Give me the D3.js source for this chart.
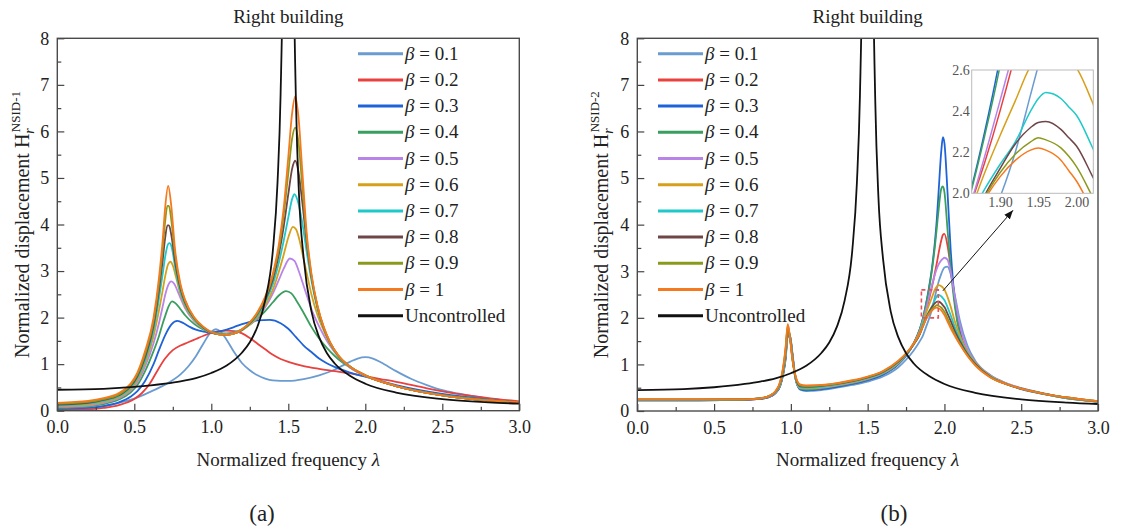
<!DOCTYPE html>
<html>
<head>
<meta charset="utf-8">
<script src="https://cdn.jsdelivr.net/npm/d3@7"></script>
<style>
  html, body { margin: 0; padding: 0; background: #fff; }
  svg { display: block; }
</style>
</head>
<body>
<svg id="chart" width="1127" height="530"></svg>
<script>
// ---------- data ----------
const betaLabels = ["0.1", "0.2", "0.3", "0.4", "0.5", "0.6", "0.7", "0.8", "0.9", "1"];
const lineColors = ["#6a9bd1", "#e8413e", "#1e63d8", "#3a9e5e", "#b884e8",
                    "#d6a01a", "#1fc9c9", "#6f4548", "#8c9a1c", "#f57a1f"];

const xTicks = [0, 0.5, 1, 1.5, 2, 2.5, 3];
const xMinorTicks = [0.25, 0.75, 1.25, 1.75, 2.25, 2.75];
const yTicks = [0, 1, 2, 3, 4, 5, 6, 7, 8];
const yMinorTicks = [0.5, 1.5, 2.5, 3.5, 4.5, 5.5, 6.5, 7.5];
const insetXTicks = [1.90, 1.95, 2.00];
const insetYTicks = [2.0, 2.2, 2.4, 2.6];

// uncontrolled response (same in both panels)
const uncontrolled = [[0,0.45],[0.3,0.47],[0.5,0.51],[0.7,0.58],[0.8,0.63],[0.9,0.7],[1.0,0.81],[1.1,0.97],
  [1.2,1.25],[1.25,1.47],[1.3,1.81],[1.35,2.37],[1.4,3.45],[1.43,4.9],[1.45,6.8],[1.47,11],[1.5,30],
  [1.53,11],[1.55,6.6],[1.57,4.6],[1.6,3.27],[1.65,2.14],[1.7,1.58],[1.75,1.24],[1.8,1.02],[1.9,0.75],
  [2.0,0.58],[2.2,0.39],[2.5,0.25],[2.8,0.18],[3.0,0.15]];

// panel (a): H_r^NSID-1, [lambda, H] per beta
const a01 = [[0,0.03],[0.2,0.06],[0.3,0.1],[0.4,0.17],[0.5,0.26],[0.6,0.4],[0.7,0.56],[0.8,0.78],[0.85,0.95],
  [0.9,1.17],[0.95,1.45],[1.0,1.7],[1.03,1.75],[1.06,1.7],[1.1,1.52],[1.15,1.25],[1.2,1.02],[1.25,0.87],
  [1.3,0.76],[1.35,0.69],[1.4,0.65],[1.45,0.64],[1.5,0.64],[1.6,0.68],[1.7,0.76],[1.8,0.88],[1.9,1.05],
  [1.95,1.12],[2.0,1.15],[2.05,1.12],[2.1,1.04],[2.2,0.85],[2.3,0.68],[2.4,0.55],[2.5,0.44],[2.6,0.37],
  [2.8,0.26],[3.0,0.19]];
const a02 = [[0,0.02],[0.2,0.03],[0.3,0.06],[0.4,0.12],[0.5,0.25],[0.55,0.38],[0.6,0.58],[0.65,0.86],
  [0.7,1.12],[0.75,1.3],[0.8,1.4],[0.85,1.47],[0.9,1.54],[0.95,1.61],[1.0,1.67],[1.05,1.71],[1.1,1.72],
  [1.15,1.71],[1.2,1.66],[1.25,1.56],[1.3,1.44],[1.35,1.32],[1.4,1.2],[1.45,1.11],[1.5,1.05],[1.6,0.96],
  [1.7,0.9],[1.8,0.85],[1.9,0.8],[2.0,0.74],[2.1,0.68],[2.2,0.62],[2.4,0.48],[2.6,0.36],[2.8,0.27],[3.0,0.2]];
const a03 = [[0,0.04],[0.2,0.06],[0.3,0.1],[0.4,0.18],[0.475,0.3],[0.52,0.42],[0.57,0.64],[0.625,1.0],
  [0.66,1.3],[0.7,1.62],[0.74,1.85],[0.78,1.93],[0.82,1.88],[0.86,1.8],[0.9,1.74],[0.95,1.7],[1.0,1.68],
  [1.05,1.7],[1.1,1.74],[1.15,1.8],[1.2,1.86],[1.25,1.91],[1.3,1.94],[1.38,1.95],[1.45,1.88],[1.5,1.76],
  [1.55,1.58],[1.6,1.4],[1.65,1.26],[1.7,1.12],[1.75,1.02],[1.8,0.94],[1.9,0.82],[2.0,0.73],[2.2,0.55],
  [2.5,0.36],[2.8,0.24],[3.0,0.18]];
const a04 = [[0,0.06],[0.2,0.09],[0.3,0.14],[0.4,0.24],[0.475,0.39],[0.52,0.55],[0.57,0.85],[0.625,1.28],
  [0.66,1.6],[0.685,1.88],[0.7,2.03],[0.72,2.22],[0.745,2.35],[0.77,2.3],[0.8,2.18],[0.83,2.05],[0.89,1.86],
  [0.95,1.74],[1.0,1.68],[1.05,1.66],[1.1,1.66],[1.15,1.69],[1.2,1.75],[1.25,1.85],[1.3,1.98],[1.35,2.14],
  [1.4,2.33],[1.44,2.48],[1.485,2.57],[1.52,2.52],[1.55,2.38],[1.6,2.1],[1.65,1.8],[1.7,1.55],[1.75,1.35],
  [1.8,1.18],[1.85,1.04],[1.9,0.93],[2.0,0.75],[2.2,0.53],[2.5,0.34],[2.8,0.23],[3.0,0.17]];
const a05 = [[0,0.08],[0.2,0.11],[0.3,0.17],[0.4,0.27],[0.475,0.43],[0.52,0.61],[0.57,0.95],[0.625,1.45],
  [0.66,1.88],[0.685,2.25],[0.7,2.48],[0.72,2.7],[0.74,2.78],[0.76,2.72],[0.78,2.58],[0.8,2.42],[0.83,2.2],
  [0.89,1.92],[0.95,1.76],[1.0,1.68],[1.05,1.65],[1.1,1.65],[1.15,1.68],[1.2,1.74],[1.25,1.85],[1.3,2.0],
  [1.35,2.22],[1.4,2.52],[1.44,2.82],[1.47,3.05],[1.51,3.27],[1.54,3.22],[1.57,2.98],[1.6,2.68],[1.63,2.38],
  [1.66,2.1],[1.69,1.88],[1.73,1.62],[1.77,1.4],[1.83,1.14],[1.9,0.93],[2.0,0.75],[2.2,0.53],[2.5,0.33],
  [2.8,0.22],[3.0,0.17]];
const a06 = [[0,0.1],[0.2,0.13],[0.3,0.19],[0.4,0.29],[0.475,0.46],[0.52,0.66],[0.57,1.02],[0.625,1.6],
  [0.66,2.15],[0.685,2.6],[0.7,2.88],[0.72,3.15],[0.735,3.2],[0.75,3.12],[0.77,2.88],[0.8,2.5],[0.83,2.24],
  [0.89,1.94],[0.95,1.76],[1.0,1.68],[1.05,1.64],[1.1,1.64],[1.15,1.66],[1.2,1.73],[1.25,1.85],[1.3,2.02],
  [1.35,2.27],[1.4,2.6],[1.44,3.0],[1.47,3.35],[1.5,3.72],[1.53,3.95],[1.55,3.9],[1.57,3.7],[1.6,3.25],
  [1.63,2.8],[1.65,2.5],[1.69,2.05],[1.73,1.72],[1.77,1.44],[1.83,1.15],[1.9,0.94],[2.0,0.75],[2.2,0.53],
  [2.5,0.33],[2.8,0.22],[3.0,0.17]];
const a07 = [[0,0.11],[0.2,0.15],[0.3,0.21],[0.4,0.31],[0.475,0.49],[0.52,0.7],[0.57,1.08],[0.625,1.72],
  [0.66,2.4],[0.685,2.95],[0.7,3.3],[0.72,3.58],[0.73,3.6],[0.745,3.48],[0.765,3.08],[0.8,2.55],[0.83,2.28],
  [0.89,1.96],[0.95,1.77],[1.0,1.68],[1.05,1.64],[1.1,1.63],[1.15,1.66],[1.2,1.73],[1.25,1.87],[1.3,2.05],
  [1.35,2.33],[1.4,2.72],[1.44,3.2],[1.47,3.65],[1.5,4.15],[1.525,4.55],[1.54,4.65],[1.56,4.52],[1.59,4.05],
  [1.62,3.4],[1.65,2.8],[1.69,2.18],[1.73,1.76],[1.77,1.46],[1.83,1.16],[1.9,0.95],[2.0,0.76],[2.2,0.53],
  [2.5,0.33],[2.8,0.22],[3.0,0.17]];
const a08 = [[0,0.13],[0.2,0.17],[0.3,0.23],[0.4,0.33],[0.475,0.52],[0.52,0.74],[0.57,1.15],[0.625,1.83],
  [0.66,2.58],[0.685,3.25],[0.7,3.7],[0.715,3.98],[0.725,3.98],[0.74,3.78],[0.765,3.2],[0.8,2.62],[0.83,2.32],
  [0.89,1.98],[0.95,1.78],[1.0,1.68],[1.05,1.64],[1.1,1.63],[1.15,1.66],[1.2,1.74],[1.25,1.88],[1.3,2.08],
  [1.35,2.38],[1.4,2.82],[1.44,3.38],[1.47,3.95],[1.5,4.65],[1.525,5.2],[1.545,5.37],[1.565,5.15],[1.59,4.5],
  [1.62,3.6],[1.65,2.88],[1.69,2.22],[1.73,1.78],[1.77,1.47],[1.83,1.16],[1.9,0.95],[2.0,0.76],[2.2,0.53],
  [2.5,0.33],[2.8,0.22],[3.0,0.17]];
const a09 = [[0,0.15],[0.2,0.19],[0.3,0.25],[0.4,0.35],[0.475,0.55],[0.52,0.78],[0.57,1.22],[0.625,1.92],
  [0.66,2.72],[0.685,3.5],[0.7,4.05],[0.715,4.4],[0.725,4.4],[0.74,4.1],[0.765,3.35],[0.8,2.68],[0.83,2.36],
  [0.89,1.99],[0.95,1.79],[1.0,1.69],[1.05,1.64],[1.1,1.63],[1.15,1.66],[1.2,1.75],[1.25,1.89],[1.3,2.1],
  [1.35,2.42],[1.4,2.9],[1.44,3.5],[1.47,4.2],[1.5,5.1],[1.525,5.85],[1.545,6.08],[1.565,5.8],[1.59,4.85],
  [1.62,3.7],[1.65,2.92],[1.69,2.24],[1.73,1.79],[1.77,1.47],[1.83,1.16],[1.9,0.95],[2.0,0.76],[2.2,0.53],
  [2.5,0.33],[2.8,0.22],[3.0,0.18]];
const a10 = [[0,0.17],[0.2,0.21],[0.3,0.27],[0.4,0.38],[0.475,0.58],[0.52,0.82],[0.57,1.28],[0.625,2.0],
  [0.66,2.85],[0.685,3.7],[0.7,4.35],[0.72,4.83],[0.74,4.4],[0.765,3.45],[0.8,2.72],[0.83,2.38],[0.89,2.0],
  [0.95,1.8],[1.0,1.69],[1.05,1.64],[1.1,1.63],[1.15,1.66],[1.2,1.75],[1.25,1.9],[1.3,2.12],[1.35,2.45],
  [1.4,2.95],[1.44,3.6],[1.47,4.35],[1.5,5.45],[1.525,6.4],[1.545,6.75],[1.565,6.35],[1.59,5.2],[1.62,3.8],
  [1.65,2.95],[1.69,2.25],[1.73,1.8],[1.77,1.48],[1.83,1.17],[1.9,0.95],[2.0,0.76],[2.2,0.53],[2.5,0.33],
  [2.8,0.22],[3.0,0.18]];

// panel (b): H_r^NSID-2 on a shared lambda grid
const lambdaB = [0, 0.4, 0.7, 0.8, 0.85, 0.9, 0.93, 0.95, 0.965, 0.98, 0.995, 1.01, 1.03, 1.06,
  1.1, 1.2, 1.3, 1.4, 1.5, 1.6, 1.7, 1.75, 1.8, 1.84,
  1.86, 1.88, 1.9, 1.92, 1.94, 1.95, 1.96, 1.98, 1.99, 2.0, 2.02, 2.04,
  2.07, 2.1, 2.15, 2.2, 2.3, 2.4, 2.5, 2.65, 2.8, 3.0];
const b01 = [0.23,0.23,0.24,0.26,0.29,0.38,0.53,0.78,1.08,1.58,1.6,1.25,0.72,0.46,
  0.43,0.45,0.5,0.56,0.63,0.74,0.94,1.1,1.3,1.5,
  1.62,1.8,1.98,2.2,2.48,2.62,2.75,2.95,3.03,3.08,3.1,2.95,
  2.45,1.95,1.4,1.08,0.77,0.6,0.49,0.38,0.28,0.2];
const b02 = [0.23,0.23,0.24,0.26,0.29,0.39,0.55,0.81,1.14,1.66,1.59,1.21,0.7,0.48,
  0.45,0.48,0.53,0.59,0.67,0.79,1.01,1.19,1.45,1.74,
  1.93,2.15,2.4,2.68,3.0,3.17,3.35,3.67,3.78,3.8,3.55,3.1,
  2.3,1.72,1.25,1.03,0.75,0.59,0.48,0.37,0.28,0.2];
const b03 = [0.23,0.23,0.24,0.26,0.29,0.39,0.54,0.8,1.12,1.64,1.6,1.22,0.7,0.47,
  0.44,0.47,0.52,0.58,0.66,0.78,1.0,1.18,1.45,1.76,
  1.99,2.3,2.66,3.1,3.7,4.1,4.6,5.6,5.88,5.75,4.7,3.5,
  2.3,1.7,1.25,1.03,0.74,0.58,0.47,0.36,0.27,0.2];
const b04 = [0.24,0.24,0.25,0.27,0.3,0.4,0.55,0.82,1.15,1.68,1.59,1.2,0.7,0.48,
  0.46,0.49,0.54,0.6,0.68,0.8,1.02,1.2,1.46,1.76,
  1.98,2.28,2.62,3.05,3.6,3.92,4.25,4.78,4.82,4.7,3.9,3.1,
  2.2,1.65,1.22,1.02,0.73,0.58,0.48,0.36,0.27,0.2];
const b05 = [0.24,0.24,0.25,0.27,0.3,0.4,0.56,0.83,1.17,1.7,1.58,1.18,0.7,0.49,
  0.48,0.5,0.55,0.61,0.69,0.81,1.03,1.2,1.45,1.72,
  1.93,2.18,2.45,2.72,2.95,3.05,3.13,3.24,3.27,3.29,3.25,3.0,
  2.4,1.85,1.32,1.05,0.76,0.6,0.49,0.37,0.28,0.2];
const b06 = [0.24,0.24,0.25,0.27,0.31,0.41,0.57,0.85,1.2,1.72,1.58,1.17,0.71,0.5,
  0.49,0.51,0.56,0.62,0.7,0.82,1.04,1.21,1.45,1.7,
  1.9,2.1,2.28,2.45,2.62,2.67,2.7,2.68,2.65,2.61,2.45,2.25,
  1.9,1.62,1.27,1.04,0.75,0.59,0.48,0.37,0.28,0.2];
const b07 = [0.24,0.24,0.25,0.27,0.31,0.41,0.58,0.87,1.23,1.75,1.57,1.15,0.72,0.51,
  0.5,0.52,0.57,0.63,0.71,0.83,1.05,1.21,1.43,1.66,
  1.88,2.02,2.14,2.25,2.4,2.46,2.49,2.46,2.42,2.38,2.23,2.06,
  1.78,1.55,1.24,1.02,0.74,0.58,0.48,0.37,0.28,0.2];
const b08 = [0.25,0.25,0.25,0.27,0.31,0.42,0.6,0.9,1.27,1.8,1.56,1.13,0.74,0.53,
  0.52,0.54,0.58,0.64,0.72,0.84,1.06,1.22,1.43,1.65,
  1.82,1.99,2.12,2.24,2.32,2.345,2.35,2.31,2.27,2.23,2.09,1.94,
  1.7,1.5,1.22,1.01,0.73,0.58,0.48,0.37,0.29,0.21];
const b09 = [0.25,0.25,0.25,0.27,0.31,0.42,0.61,0.92,1.3,1.84,1.56,1.12,0.75,0.55,
  0.53,0.55,0.59,0.65,0.73,0.85,1.07,1.23,1.44,1.66,
  1.82,1.98,2.1,2.19,2.25,2.27,2.26,2.22,2.18,2.13,1.99,1.84,
  1.63,1.45,1.19,0.99,0.72,0.58,0.48,0.37,0.29,0.21];
const b10 = [0.25,0.25,0.25,0.27,0.31,0.43,0.63,0.95,1.35,1.87,1.55,1.1,0.76,0.57,
  0.55,0.56,0.6,0.66,0.74,0.86,1.08,1.24,1.45,1.67,
  1.82,1.97,2.08,2.16,2.21,2.22,2.21,2.16,2.11,2.06,1.92,1.78,
  1.6,1.43,1.18,0.98,0.72,0.58,0.48,0.37,0.29,0.21];

// zoomed window of panel (b)
const insetDomainX = [1.863, 2.022];
const insetDomainY = [2.0, 2.6];
const zoomBoxX = [1.85, 1.96];
const zoomBoxY = [2.0, 2.6];

// ---------- drawing ----------
const FONT = '"Liberation Serif", "Times New Roman", serif';
const svg = d3.select("#chart");
svg.append("rect").attr("width", 1127).attr("height", 530).attr("fill", "#fff");

const seriesA = [a01, a02, a03, a04, a05, a06, a07, a08, a09, a10];
const seriesB = [b01, b02, b03, b04, b05, b06, b07, b08, b09, b10]
  .map(ys => lambdaB.map((l, i) => [l, ys[i]]));

const panels = [
  { id: "a", x0: 57.3, x1: 519.3, y0: 38.3, y1: 410.7, series: seriesA, sup: "NSID-1",
    yLabX: 22, legendX: 358, tag: "(a)", tagX: 262 },
  { id: "b", x0: 637.3, x1: 1098, y0: 38.3, y1: 411, series: seriesB, sup: "NSID-2",
    yLabX: 601, legendX: 658, tag: "(b)", tagX: 894 }
];

const defs = svg.append("defs");
defs.append("marker")
    .attr("id", "arrowHead")
    .attr("viewBox", "0 -5 10 10")
    .attr("refX", 10).attr("refY", 0)
    .attr("markerWidth", 9).attr("markerHeight", 9)
    .attr("markerUnits", "userSpaceOnUse")
    .attr("orient", "auto")
  .append("path")
    .attr("d", "M0,-4L10,0L0,4Z")
    .attr("fill", "#111");

panels.forEach(p => {
    const x = d3.scaleLinear().domain([0, 3]).range([p.x0, p.x1]);
    const y = d3.scaleLinear().domain([0, 8]).range([p.y1, p.y0]);
    const g = svg.append("g");

    defs.append("clipPath").attr("id", "clip-" + p.id)
      .append("rect")
        .attr("x", p.x0).attr("y", p.y0)
        .attr("width", p.x1 - p.x0).attr("height", p.y1 - p.y0);

    const line = d3.line()
        .x(d => x(d[0]))
        .y(d => y(d[1]))
        .curve(d3.curveMonotoneX);

    const plot = g.append("g").attr("clip-path", `url(#clip-${p.id})`);
    p.series.forEach((s, i) => {
        plot.append("path")
            .attr("d", line(s))
            .attr("fill", "none")
            .attr("stroke", lineColors[i])
            .attr("stroke-width", 1.8);
    });
    plot.append("path")
        .attr("d", line(uncontrolled))
        .attr("fill", "none")
        .attr("stroke", "#111")
        .attr("stroke-width", 1.8);

    // axes, ticks point inward
    const gx = g.append("g")
        .attr("transform", `translate(0,${p.y1})`)
        .call(d3.axisBottom(x).tickValues(xTicks).tickSize(-7).tickPadding(10).tickFormat(d3.format(".1f")));
    const gxm = g.append("g")
        .attr("transform", `translate(0,${p.y1})`)
        .call(d3.axisBottom(x).tickValues(xMinorTicks).tickSize(-4).tickFormat(""));
    const gy = g.append("g")
        .attr("transform", `translate(${p.x0},0)`)
        .call(d3.axisLeft(y).tickValues(yTicks).tickSize(-7).tickPadding(8).tickFormat(d3.format("d")));
    const gym = g.append("g")
        .attr("transform", `translate(${p.x0},0)`)
        .call(d3.axisLeft(y).tickValues(yMinorTicks).tickSize(-4).tickFormat(""));
    [gx, gxm, gy, gym].forEach(a => {
        a.select(".domain").remove();
        a.attr("font-size", 18).attr("color", "#444");
        a.selectAll("line").attr("stroke-width", 1.2);
        a.selectAll("text").attr("fill", "#222");
    });

    g.append("rect")
        .attr("x", p.x0).attr("y", p.y0)
        .attr("width", p.x1 - p.x0).attr("height", p.y1 - p.y0)
        .attr("fill", "none")
        .attr("stroke", "#4a4a4a")
        .attr("stroke-width", 1.4);

    const cx = (p.x0 + p.x1) / 2;
    g.append("text")
        .attr("x", cx).attr("y", 23)
        .attr("text-anchor", "middle")
        .attr("font-size", 19)
        .attr("fill", "#222")
        .text("Right building");

    const xl = g.append("text")
        .attr("x", cx).attr("y", 466)
        .attr("text-anchor", "middle")
        .attr("font-size", 19)
        .attr("fill", "#222");
    xl.append("tspan").text("Normalized frequency ");
    xl.append("tspan").attr("font-style", "italic").text("λ");

    const yl = g.append("text")
        .attr("transform", `translate(${p.yLabX},${(p.y0 + p.y1) / 2}) rotate(-90)`)
        .attr("text-anchor", "middle")
        .attr("dy", "0.35em")
        .attr("font-size", 20)
        .attr("fill", "#222");
    yl.append("tspan").text("Normalized displacement H");
    yl.append("tspan").attr("font-style", "italic").attr("font-size", 14).attr("dy", 5).text("r");
    yl.append("tspan").attr("font-size", 13).attr("dx", -4).attr("dy", -14).text(p.sup);

    g.append("text")
        .attr("x", p.tagX).attr("y", 521)
        .attr("text-anchor", "middle")
        .attr("font-size", 23)
        .attr("fill", "#222")
        .text(p.tag);

    // legend
    const legendRows = betaLabels.map((b, i) => ({ label: b, color: lineColors[i] }))
        .concat([{ label: null, color: "#111" }]);
    const lg = g.append("g");
    legendRows.forEach((r, i) => {
        const ly = 53.7 + i * 26.2;
        lg.append("line")
            .attr("x1", p.legendX).attr("x2", p.legendX + 45)
            .attr("y1", ly).attr("y2", ly)
            .attr("stroke", r.color)
            .attr("stroke-width", 3);
        const t = lg.append("text")
            .attr("x", p.legendX + 47).attr("y", ly + 6)
            .attr("font-size", 19)
            .attr("fill", "#222");
        if (r.label === null) {
            t.text("Uncontrolled");
        } else {
            t.append("tspan").attr("font-style", "italic").text("β");
            t.append("tspan").text(" = " + r.label);
        }
    });

    if (p.id === "b") {
        // dashed zoom window
        g.append("rect")
            .attr("x", x(zoomBoxX[0])).attr("y", y(zoomBoxY[1]))
            .attr("width", x(zoomBoxX[1]) - x(zoomBoxX[0]))
            .attr("height", y(zoomBoxY[0]) - y(zoomBoxY[1]))
            .attr("fill", "none")
            .attr("stroke", "#e8505a")
            .attr("stroke-width", 1.6)
            .attr("stroke-dasharray", "4,3");

        const ix = d3.scaleLinear().domain(insetDomainX).range([971.7, 1093.3]);
        const iy = d3.scaleLinear().domain(insetDomainY).range([193.3, 70]);
        defs.append("clipPath").attr("id", "clip-inset")
          .append("rect")
            .attr("x", ix.range()[0]).attr("y", iy.range()[1])
            .attr("width", ix.range()[1] - ix.range()[0])
            .attr("height", iy.range()[0] - iy.range()[1]);

        const ig = g.append("g");
        ig.append("rect")
            .attr("x", ix.range()[0]).attr("y", iy.range()[1])
            .attr("width", ix.range()[1] - ix.range()[0])
            .attr("height", iy.range()[0] - iy.range()[1])
            .attr("fill", "#fff");
        const iline = d3.line()
            .x(d => ix(d[0]))
            .y(d => iy(d[1]))
            .curve(d3.curveMonotoneX);
        const ip = ig.append("g").attr("clip-path", "url(#clip-inset)");
        p.series.forEach((s, i) => {
            ip.append("path")
                .attr("d", iline(s))
                .attr("fill", "none")
                .attr("stroke", lineColors[i])
                .attr("stroke-width", 1.5);
        });
        ig.append("rect")
            .attr("x", ix.range()[0]).attr("y", iy.range()[1])
            .attr("width", ix.range()[1] - ix.range()[0])
            .attr("height", iy.range()[0] - iy.range()[1])
            .attr("fill", "none")
            .attr("stroke", "#bbb")
            .attr("stroke-width", 1);

        const iax = ig.append("g")
            .attr("transform", `translate(0,${iy.range()[0]})`)
            .call(d3.axisBottom(ix).tickValues(insetXTicks).tickSize(0).tickPadding(4).tickFormat(d3.format(".2f")));
        const iay = ig.append("g")
            .attr("transform", `translate(${ix.range()[0]},0)`)
            .call(d3.axisLeft(iy).tickValues(insetYTicks).tickSize(0).tickPadding(2).tickFormat(d3.format(".1f")));
        [iax, iay].forEach(a => {
            a.select(".domain").remove();
            a.attr("font-size", 14);
            a.selectAll("text").attr("fill", "#555");
        });

        g.append("line")
            .attr("x1", x(1.99)).attr("y1", y(2.58))
            .attr("x2", ix(1.917)).attr("y2", iy(2.0) + 17)
            .attr("stroke", "#111")
            .attr("stroke-width", 1)
            .attr("marker-end", "url(#arrowHead)");
    }
});

// serif face for every label (inline style wins over the axis defaults)
svg.selectAll("text").style("font-family", FONT);
</script>
</body>
</html>
